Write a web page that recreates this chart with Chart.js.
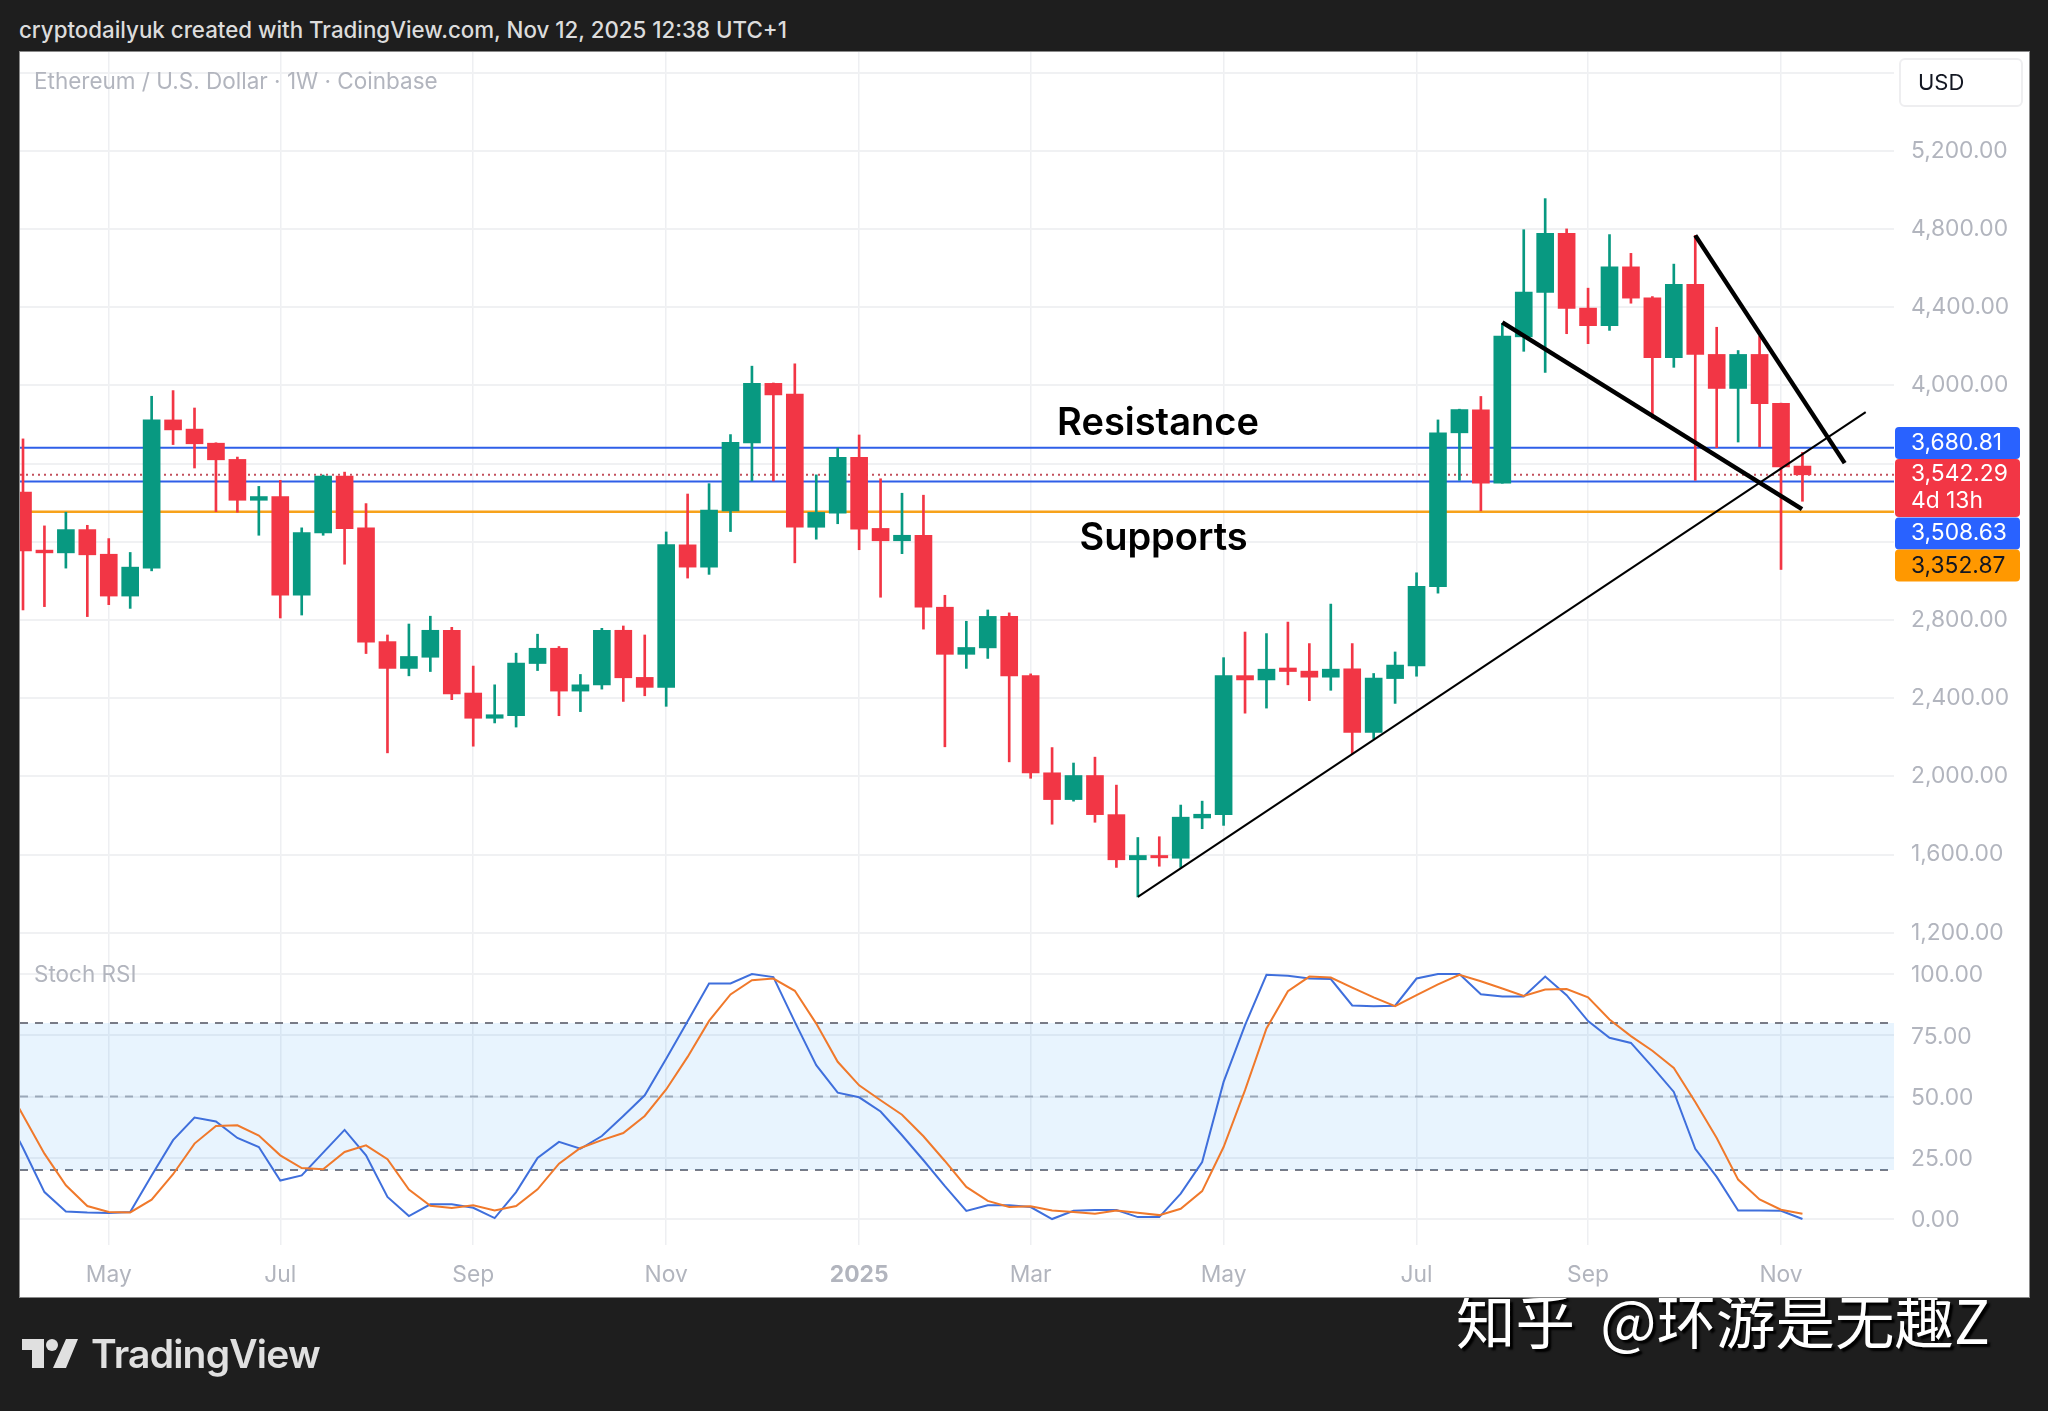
<!DOCTYPE html>
<html>
<head>
<meta charset="utf-8">
<title>ETH/USD weekly</title>
<script src="https://cdn.jsdelivr.net/npm/chart.js@4"></script>
<style>
  html, body { margin: 0; padding: 0; background: #1e1e1e; }
  body { width: 2048px; height: 1411px; position: relative; overflow: hidden; font-family: Inter, sans-serif; }
  #plotBox { position: absolute; left: 19px; top: 51px; width: 2009px; height: 1245px; background: #fff; border: 1px solid #8a8a8a; }
  #myChart { position: absolute; left: 0; top: 0; }
  #header { position: absolute; left: 19px; top: 16px; font-size: 22.3px; font-weight: 500; color: #dcdcdc; white-space: nowrap; }
  #logoText { position: absolute; left: 91px; top: 1330px; font-size: 39px; font-weight: 600; letter-spacing: -0.8px; color: #e0e0e0; }
  #logo { position: absolute; left: 22px; top: 1339px; }
  #watermark { position: absolute; left: 1456px; top: 1275px; font-family: "Noto Sans CJK SC"; font-size: 59.5px; word-spacing: 12px; color: #fff; white-space: nowrap; text-shadow: 3px 3px 2px #000; }
</style>
</head>
<body>
<div id="watermark">知乎 @环游是无趣Z</div>
<div id="plotBox"></div>
<div id="header">cryptodailyuk created with TradingView.com, Nov 12, 2025 12:38 UTC+1</div>
<canvas id="myChart" width="2048" height="1411"></canvas>
<svg id="logo" width="56" height="29" viewBox="0 0 56 29"><path fill="#e0e0e0" d="M0 0H22V29H10V11H0Z M44 0H56L44 29H31Z"/><circle fill="#e0e0e0" cx="30" cy="6" r="6"/></svg>
<div id="logoText">TradingView</div>

<script>
// weekly candles
const opens = [3454, 3157, 3143, 3262, 3136, 2922, 3065, 3823, 3776, 3704, 3621, 3412, 3431, 2927, 3245, 3536, 3271, 2689, 2552, 2609, 2747, 2426, 2297, 2310, 2577, 2655, 2436, 2467, 2747, 2506,
    2455, 3184, 3070, 3358, 3706, 4010, 3955, 3274, 3346, 3632, 3268, 3205, 3233, 2865, 2624, 2657, 2818, 2515, 2018, 1881, 2004, 1804, 1573, 1595, 1581, 1787, 1804, 2515, 2493, 2554,
    2538, 2507, 2550, 2225, 2500, 2565, 2970, 3757, 3874, 3499, 4248, 4475, 4778, 4395, 4305, 4606, 4448, 4142, 4516, 4158, 3984, 4158, 3908, 3587];
const closes = [3153, 3143, 3262, 3133, 2922, 3070, 3823, 3772, 3701, 3619, 3412, 3431, 2927, 3247, 3536, 3267, 2686, 2552, 2613, 2747, 2422, 2297, 2315, 2579, 2655, 2436, 2468, 2747, 2504, 2455,
    3186, 3070, 3362, 3708, 4010, 3951, 3274, 3350, 3632, 3264, 3205, 3233, 2865, 2624, 2659, 2818, 2513, 2018, 1881, 2004, 1804, 1573, 1595, 1583, 1791, 1806, 2515, 2493, 2548, 2536,
    2507, 2548, 2225, 2502, 2569, 2972, 3757, 3876, 3499, 4252, 4477, 4778, 4393, 4305, 4606, 4446, 4142, 4516, 4158, 3984, 4158, 3906, 3583, 3542.29];
const highs = [3726, 3281, 3351, 3284, 3216, 3145, 3944, 3973, 3884, 3706, 3633, 3483, 3514, 3271, 3541, 3556, 3395, 2723, 2779, 2819, 2762, 2564, 2468, 2630, 2727, 2664, 2521, 2757, 2769, 2723,
    3250, 3444, 3497, 3748, 4098, 4012, 4110, 3542, 3679, 3746, 3522, 3448, 3438, 2926, 2793, 2851, 2836, 2524, 2147, 2068, 2098, 1955, 1687, 1691, 1853, 1873, 2607, 2738, 2730, 2789,
    2679, 2881, 2679, 2526, 2636, 3041, 3823, 3878, 3943, 4317, 4796, 4955, 4800, 4497, 4771, 4675, 4454, 4620, 4767, 4297, 4178, 4252, 3909, 3657];
const lows = [2851, 2868, 3065, 2817, 2878, 2859, 3051, 3697, 3577, 3354, 3351, 3233, 2810, 2825, 3233, 3085, 2628, 2120, 2514, 2536, 2392, 2154, 2273, 2252, 2541, 2310, 2331, 2446, 2383, 2412,
    2358, 3014, 3033, 3252, 3511, 3511, 3092, 3213, 3292, 3159, 2916, 3139, 2753, 2151, 2552, 2603, 2074, 1990, 1755, 1873, 1765, 1534, 1383, 1540, 1534, 1732, 1749, 2323, 2349, 2468,
    2387, 2440, 2115, 2193, 2373, 2512, 2937, 3514, 3358, 3499, 4174, 4066, 4264, 4213, 4281, 4420, 3833, 4092, 3514, 3681, 3710, 3686, 3058, 3407];

// Stoch RSI, %K and %D. the lines come in from off the left edge, hence the extra week
const rsiK = [29, 11, 3.1, 2.7, 2.5, 2.9, 17.8, 32.2, 41.4, 39.8, 33.1, 29.4, 15.7, 17.8, 27.1, 36.4, 26, 9, 1.2, 6, 6, 4.6, 0.4, 11, 24.9, 31.5, 28.7, 33.9, 42.1, 50.5,
    65.4, 80.8, 96.2, 96.2, 100, 98.8, 80.5, 62.8, 51.6, 49.7, 43.9, 34.2, 24, 13.4, 3.3, 5.6, 5.6, 4.9, 0, 3.4, 3.7, 3.7, 0.8, 0.8, 10.4, 23.3, 56, 79.2, 99.7, 99.3,
    98.2, 98, 87.2, 86.9, 87.1, 98.2, 100, 100, 91.8, 90.9, 90.9, 99, 91.4, 80.8, 74, 71.9, 62.1, 51.9, 28.7, 17.2, 3.5, 3.5, 3.4, 0];
const rsiD = [42.4, 26.7, 13.8, 5.3, 2.9, 2.7, 7.9, 18.3, 30.8, 38, 38.3, 34.1, 26, 20.8, 20.3, 27.4, 30.1, 24.4, 12, 5.4, 4.5, 5.6, 3.5, 5.3, 12.1, 22.6, 29, 32.2, 35.1, 42.1,
    52.9, 66.2, 80.9, 91.7, 97.5, 98.2, 93.2, 79.8, 64.2, 54.6, 48.5, 42.6, 33.8, 23.7, 13.1, 7.4, 4.9, 5.2, 3.5, 2.9, 2.2, 3.5, 2.6, 1.6, 4.2, 11.4, 29.4, 52.6, 77.8, 93,
    99, 98.6, 94.5, 90.5, 86.9, 91.4, 95.8, 99.7, 97.1, 94.1, 91.1, 93.7, 93.9, 90.5, 81.5, 74.7, 68.7, 61.7, 47.8, 33.1, 16.1, 8, 3.8, 2.2];
const rsiKBefore = 46;
const rsiDBefore = 58;

const monthLabels = ['May', 'Jul', 'Sep', 'Nov', '2025', 'Mar', 'May', 'Jul', 'Sep', 'Nov'];
const monthWeeks = [4, 12, 21, 30, 39, 47, 56, 65, 73, 82];
const priceTicks = [1200, 1600, 2000, 2400, 2800, 3200, 3600, 4000, 4400, 4800, 5200, 5600];
const hiddenPriceTicks = [3200, 3600, 5600];
const rsiTicks = [0, 25, 50, 75, 100];

const resistanceLevel = 3680.81;
const supportLevel = 3508.63;
const lowerSupportLevel = 3352.87;
const lastPrice = 3542.29;
const rsiUpper = 80, rsiMiddle = 50, rsiLower = 20;

// hand drawn lines: [week, price] at each end
const riseLine = [[52, 1383], [85.95, 3863]];
const wedgeLower = [[69, 4322], [82.98, 3367]];
const wedgeUpper = [[78, 4767], [84.97, 3602]];

const upColor = '#089981';
const downColor = '#f23645';
const tickColor = '#b2b5be';
const gridColor = '#f0f1f3';
const xMin = -0.14, xMax = 87.27;

const weeks = opens.map((_, i) => i);
const candleColors = weeks.map(i => closes[i] >= opens[i] ? upColor : downColor);

function toPoints(pairs) {
    return pairs.map(p => ({ x: p[0], y: p[1] }));
}

function rsiPoints(before, values) {
    return [{ x: -1, y: before }].concat(values.map((v, i) => ({ x: i, y: v })));
}

function levelLine(value, color, axis, extra) {
    return Object.assign({
        type: 'line',
        yAxisID: axis,
        data: [{ x: xMin, y: value }, { x: xMax, y: value }],
        borderColor: color,
        borderWidth: 2,
        pointRadius: 0,
        order: 6,
    }, extra);
}

function trendLine(pairs, width) {
    return {
        type: 'line',
        yAxisID: 'yPrice',
        data: toPoints(pairs),
        borderColor: '#000',
        borderWidth: width,
        pointRadius: 0,
        order: 1,
    };
}

const datasets = [
    levelLine(resistanceLevel, '#2f5fe8', 'yPrice'),
    levelLine(supportLevel, '#2f5fe8', 'yPrice'),
    levelLine(lowerSupportLevel, '#f7a21b', 'yPrice', { borderWidth: 2.5 }),
    levelLine(lastPrice, '#c2505c', 'yPrice', { borderDash: [2, 4] }),
    {
        label: 'wicks',
        yAxisID: 'yPrice',
        grouped: false,
        data: weeks.map(i => ({ x: i, y: [lows[i], highs[i]] })),
        backgroundColor: candleColors,
        barThickness: 2,
        order: 4,
    },
    {
        label: 'bodies',
        yAxisID: 'yPrice',
        grouped: false,
        data: weeks.map(i => ({ x: i, y: [opens[i], closes[i]] })),
        backgroundColor: candleColors,
        barThickness: 17,
        order: 3,
    },
    trendLine(riseLine, 2),
    trendLine(wedgeLower, 4.5),
    trendLine(wedgeUpper, 4.5),
    levelLine(rsiUpper, '#787b86', 'yRsi', { borderDash: [8, 7], fill: '+1', backgroundColor: 'rgba(33,150,243,0.1)' }),
    levelLine(rsiLower, '#787b86', 'yRsi', { borderDash: [8, 7] }),
    levelLine(rsiMiddle, '#a9abb3', 'yRsi', { borderDash: [8, 7] }),
    {
        type: 'line',
        yAxisID: 'yRsi',
        data: rsiPoints(rsiKBefore, rsiK),
        borderColor: '#3f6fdc',
        borderWidth: 2,
        pointRadius: 0,
        order: 2,
    },
    {
        type: 'line',
        yAxisID: 'yRsi',
        data: rsiPoints(rsiDBefore, rsiD),
        borderColor: '#f0792b',
        borderWidth: 2,
        pointRadius: 0,
        order: 1,
    },
];

function roundedTag(ctx, x, y, w, h, color) {
    ctx.fillStyle = color;
    ctx.beginPath();
    ctx.roundRect(x, y, w, h, 4);
    ctx.fill();
}

const overlayText = {
    id: 'overlayText',
    afterDraw(chart) {
        const ctx = chart.ctx;
        const xs = chart.scales.x;
        const ys = chart.scales.yPrice;
        ctx.save();
        ctx.textBaseline = 'middle';

        ctx.font = '22.5px Inter';
        ctx.fillStyle = tickColor;
        ctx.fillText('Ethereum / U.S. Dollar · 1W · Coinbase', 34, 82);
        ctx.fillText('Stoch RSI', 34, 975);

        ctx.fillStyle = '#000';
        ctx.font = '600 38px Inter';
        ctx.textAlign = 'center';
        ctx.fillText('Resistance', xs.getPixelForValue(52.94), ys.getPixelForValue(3806));
        ctx.fillText('Supports', xs.getPixelForValue(53.2), ys.getPixelForValue(3218));
        ctx.textAlign = 'left';

        // currency box
        ctx.fillStyle = '#fff';
        ctx.strokeStyle = '#eeeef0';
        ctx.lineWidth = 2;
        ctx.beginPath();
        ctx.roundRect(1900, 59, 122, 47, 5);
        ctx.fill();
        ctx.stroke();
        ctx.fillStyle = '#131722';
        ctx.font = '22px Inter';
        ctx.fillText('USD', 1918, 83);

        // price tags on the axis
        ctx.font = '22.8px Inter';
        roundedTag(ctx, 1895, 427, 125, 32, '#2962ff');
        roundedTag(ctx, 1895, 459, 125, 58, downColor);
        roundedTag(ctx, 1895, 517.5, 125, 32, '#2962ff');
        roundedTag(ctx, 1895, 549.5, 125, 32, '#ff9800');
        ctx.fillStyle = '#fff';
        ctx.fillText('3,680.81', 1911, 443);
        ctx.fillText('3,542.29', 1911, 474);
        ctx.fillText('4d 13h', 1911, 501);
        ctx.fillText('3,508.63', 1911, 533);
        ctx.fillStyle = '#131722';
        ctx.fillText('3,352.87', 1911, 566);
        ctx.restore();
    }
};

const axisFont = { family: 'Inter', size: 22.8 };

const yBase = {
    position: 'right',
    stack: 'panes',
    border: { display: false },
    grid: { color: gridColor, lineWidth: 2, drawTicks: false },
    afterFit(scale) { scale.width = 134; },
};

new Chart(document.getElementById('myChart'), {
    type: 'bar',
    data: { datasets: datasets },
    plugins: [overlayText],
    options: {
        responsive: false,
        animation: false,
        devicePixelRatio: 1,
        layout: { padding: { top: 52, left: 20, right: 20, bottom: 114 } },
        plugins: { legend: { display: false }, tooltip: { enabled: false } },
        scales: {
            x: {
                type: 'linear',
                min: xMin,
                max: xMax,
                offset: false,
                border: { display: false },
                grid: { offset: false, color: '#eeeff2', lineWidth: 1.5, drawTicks: false },
                afterBuildTicks(scale) { scale.ticks = monthWeeks.map(v => ({ value: v })); },
                afterFit(scale) { scale.height = 52; },
                ticks: {
                    autoSkip: false,
                    maxRotation: 0,
                    color: tickColor,
                    padding: 16,
                    font: c => monthLabels[c.index] === '2025' ? { family: 'Inter', size: 22.8, weight: '700' } : axisFont,
                    callback: (v, i) => monthLabels[i],
                },
            },
            yPrice: Object.assign({}, yBase, {
                type: 'linear',
                stackWeight: 903,
                min: 1086,
                max: 5705,
                afterBuildTicks(scale) { scale.ticks = priceTicks.map(v => ({ value: v })); },
                ticks: {
                    color: tickColor,
                    padding: 17,
                    font: axisFont,
                    callback: v => hiddenPriceTicks.includes(v) ? '' : v.toLocaleString('en-US', { minimumFractionDigits: 2 }),
                },
            }),
            yRsi: Object.assign({}, yBase, {
                type: 'linear',
                stackWeight: 290,
                min: -10.6,
                max: 107.8,
                afterBuildTicks(scale) { scale.ticks = rsiTicks.map(v => ({ value: v })); },
                ticks: {
                    color: tickColor,
                    padding: 17,
                    labelOffset: 1.5,
                    font: axisFont,
                    callback: v => v.toFixed(2),
                },
            }),
        },
    },
});
</script>
</body>
</html>
